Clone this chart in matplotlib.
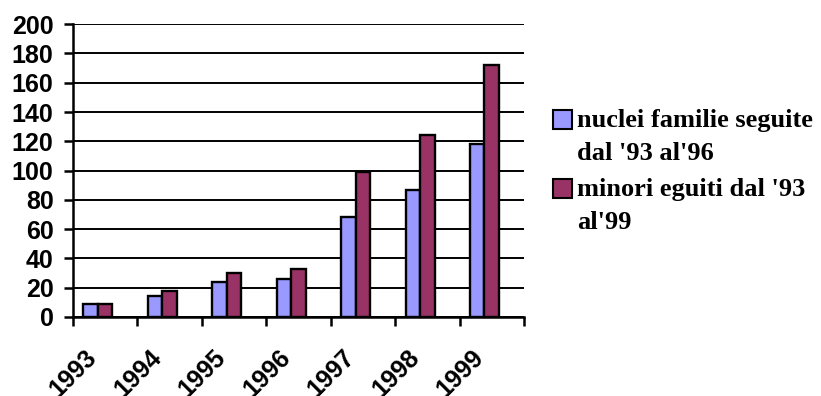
import matplotlib
matplotlib.use("Agg")
import matplotlib.pyplot as plt
import matplotlib.patches as mpatches
import numpy as np

years = ["1993", "1994", "1995", "1996", "1997", "1998", "1999"]
nuclei = [9, 14, 24, 26, 68, 87, 118]
minori = [9, 18, 30, 33, 99, 124, 172]
labels = ["nuclei familie seguite\ndal '93 al'96", "minori eguiti dal '93\nal'99"]
colors = ["#9999FF", "#993366"]

W, H = 821, 396
fig = plt.figure(figsize=(W / 100, H / 100), dpi=100)
ax = fig.add_axes([0.0889, 0.1995, 0.5495, 0.7395])

x = np.arange(len(years))
w = 0.225
left = 0.16
ax.bar(x + left, nuclei, width=w, align="edge", color=colors[0],
       edgecolor="black", linewidth=1.7, zorder=3)
ax.bar(x + left + w, minori, width=w, align="edge", color=colors[1],
       edgecolor="black", linewidth=1.7, zorder=3)

ax.set_xlim(0, len(years))
ax.set_ylim(0, 200)
ax.set_yticks(np.arange(0, 201, 20))
ax.set_xticks(np.arange(0, len(years) + 1))
ax.set_xticklabels([])
ax.yaxis.grid(True, color="black", linewidth=1.4, zorder=0)
ax.set_axisbelow(True)

for s in ["top", "right"]:
    ax.spines[s].set_visible(False)
for s in ["left", "bottom"]:
    ax.spines[s].set_linewidth(1.8)
    ax.spines[s].set_zorder(4)

ax.tick_params(axis="both", direction="out", length=6.5, width=1.8, color="black")
ax.tick_params(axis="y", pad=7.5)
for lab in ax.get_yticklabels():
    lab.set_fontfamily("Liberation Sans")
    lab.set_fontweight("bold")
    lab.set_fontsize(18)

# rotated year labels under each category
trans = matplotlib.transforms.blended_transform_factory(ax.transData, ax.transAxes)
for i, yr in enumerate(years):
    ax.text(i + 0.18, -0.097, yr, transform=trans, rotation=45,
            rotation_mode="anchor", ha="right", va="top",
            fontfamily="Liberation Sans", fontweight="bold", fontsize=18)

# legend: square swatch aligned with the first line of each two-line label
def fx(px):
    return px / W

def fy(py):
    return 1 - py / H

legend_font = {"family": "Liberation Serif", "weight": "bold", "size": 19}
first_baselines = [127, 196]
line_step = 33
for lab, col, base in zip(labels, colors, first_baselines):
    fig.patches.append(mpatches.Rectangle((fx(553), fy(base + 2)), fx(19), 19 / H,
                                          transform=fig.transFigure, facecolor=col,
                                          edgecolor="black", linewidth=1.5))
    for k, line in enumerate(lab.split("\n")):
        fig.text(fx(577), fy(base + k * line_step), line, ha="left",
                 va="baseline", fontdict=legend_font)

fig.savefig("out.png", dpi=100)
